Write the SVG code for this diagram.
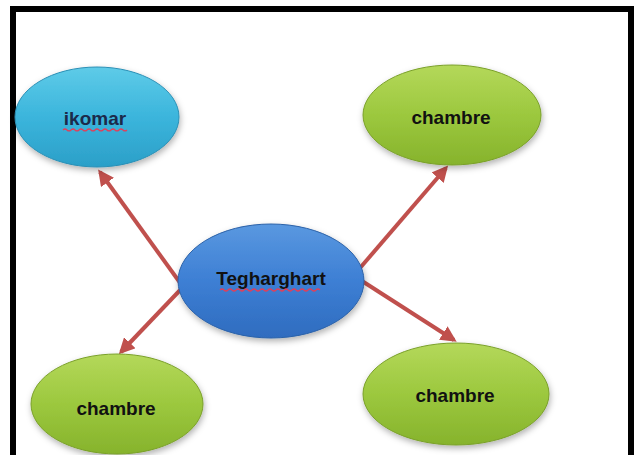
<svg xmlns="http://www.w3.org/2000/svg" width="637" height="455" viewBox="0 0 637 455">
<style>
.lbl{font-family:"Liberation Sans",Arial,sans-serif;font-weight:bold;font-size:19px;text-anchor:middle;fill:#111}
.edge{stroke:#c0504d;stroke-width:4;fill:none;marker-end:url(#ah)}
.wavy{stroke:#e0405a;stroke-width:1.2;fill:none}
</style>
<defs>
<marker id="ah" viewBox="0 0 10 10" refX="8" refY="5" markerWidth="4" markerHeight="4" orient="auto" markerUnits="strokeWidth">
<path d="M0,0 L10,5 L0,10 z" fill="#c0504d"/>
</marker>
<linearGradient id="gCyan" x1="0" y1="0" x2="0" y2="1">
<stop offset="0" stop-color="#5ecbe8"/><stop offset="0.5" stop-color="#3bb5dc"/><stop offset="1" stop-color="#2b9fc8"/>
</linearGradient>
<linearGradient id="gBlue" x1="0" y1="0" x2="0" y2="1">
<stop offset="0" stop-color="#5a98e0"/><stop offset="0.5" stop-color="#3d7fd4"/><stop offset="1" stop-color="#2f6cbf"/>
</linearGradient>
<linearGradient id="gGreen" x1="0" y1="0" x2="0" y2="1">
<stop offset="0" stop-color="#b4d85a"/><stop offset="0.5" stop-color="#9cc83e"/><stop offset="1" stop-color="#86b32c"/>
</linearGradient>
<filter id="sh" x="-20%" y="-20%" width="140%" height="150%">
<feDropShadow dx="1" dy="3" stdDeviation="3" flood-color="#000" flood-opacity="0.3"/>
</filter>
</defs>
<rect x="0" y="0" width="637" height="455" fill="#fff"/>
<rect x="13" y="9" width="618" height="460" fill="none" stroke="#000" stroke-width="6"/>
<g id="connectors">
<path class="edge" d="M186,291 L100,172"/>
<path class="edge" d="M360,268 L446,168"/>
<path class="edge" d="M184,286 L121,352"/>
<path class="edge" d="M362,281 L454,340"/>
</g>
<g id="n-ikomar">
<ellipse cx="97" cy="117" rx="82" ry="50" fill="url(#gCyan)" stroke="#2a8fb5" stroke-width="1" filter="url(#sh)"/>
<text class="lbl" x="95" y="125" fill="#1b2a4a" style="fill:#1b2a4a">ikomar</text>
<path class="wavy" d="M63,130 q2,-2 4,0 t4,0 t4,0 t4,0 t4,0 t4,0 t4,0 t4,0 t4,0 t4,0 t4,0 t4,0 t4,0 t4,0 t4,0 t4,0"/>
</g>
<g id="n-tegharghart">
<ellipse cx="271" cy="281" rx="93" ry="57" fill="url(#gBlue)" stroke="#2c62a8" stroke-width="1" filter="url(#sh)"/>
<text class="lbl" x="271" y="285">Tegharghart</text>
<path class="wavy" d="M220,290 q2,-2 4,0 t4,0 t4,0 t4,0 t4,0 t4,0 t4,0 t4,0 t4,0 t4,0 t4,0 t4,0 t4,0 t4,0 t4,0 t4,0 t4,0 t4,0 t4,0 t4,0 t4,0 t4,0 t4,0 t4,0 t4,0"/>
</g>
<g id="n-chambre-tr">
<ellipse cx="452" cy="115" rx="89" ry="50" fill="url(#gGreen)" stroke="#7aa02a" stroke-width="1" filter="url(#sh)"/>
<text class="lbl" x="451" y="124">chambre</text>
</g>
<g id="n-chambre-bl">
<ellipse cx="117" cy="404" rx="86" ry="50" fill="url(#gGreen)" stroke="#7aa02a" stroke-width="1" filter="url(#sh)"/>
<text class="lbl" x="116" y="415">chambre</text>
</g>
<g id="n-chambre-br">
<ellipse cx="456" cy="394" rx="93" ry="51" fill="url(#gGreen)" stroke="#7aa02a" stroke-width="1" filter="url(#sh)"/>
<text class="lbl" x="455" y="402">chambre</text>
</g>
</svg>
